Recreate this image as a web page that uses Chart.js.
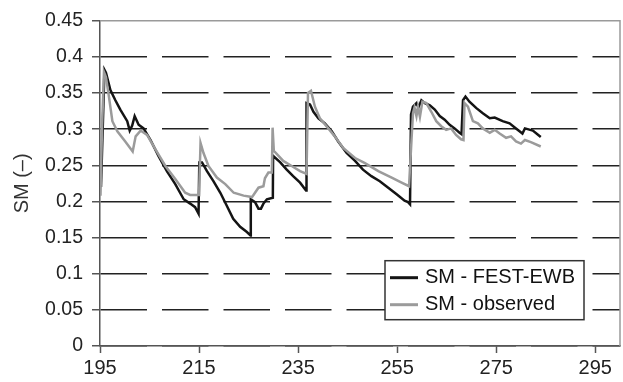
<!DOCTYPE html>
<html>
<head>
    <meta charset="UTF-8">
    <title>SM</title>
    <script src="https://cdn.jsdelivr.net/npm/chart.js"></script>
    <style>
        html, body { margin: 0; padding: 0; background: #fff; }
        #wrap { width: 623px; height: 382px; }
    </style>
</head>
<body>
    <div id="wrap"><canvas id="grafico" width="623" height="382"></canvas></div>

    <script>
        // series (day of year, soil moisture)
        const festDays = [195.2, 195.9, 196.2, 197.1, 198.1, 199.1, 200.5, 201.0, 201.5, 202.0, 202.8, 203.8, 205.2, 206.8, 208.5, 210.2, 211.9, 213.2, 214.2, 214.9,
            215.05, 215.6, 216.6, 217.9, 219.3, 220.6, 221.9, 223.3, 224.6, 225.4,
            225.45, 226.3, 227.0, 227.5, 228.0, 228.7, 229.9,
            229.95, 231.4, 232.7, 234.0, 235.4, 236.6,
            236.7, 237.4, 238.1, 239.1, 240.4, 241.8, 243.1, 244.8, 246.5, 248.1, 249.8, 251.5, 253.2, 254.9, 256.5, 257.2, 257.6,
            257.8, 258.2, 258.9, 259.3, 259.9, 260.6, 261.6, 262.6, 263.6, 264.6, 265.6, 266.6, 267.6, 268.0,
            268.3, 268.8, 269.6, 271.0, 272.3, 273.7, 274.7, 276.3, 277.7, 279.0, 280.3, 280.8, 282.4, 284.0];
        const festValues = [0.22, 0.382, 0.378, 0.354, 0.340, 0.327, 0.311, 0.298, 0.305, 0.318, 0.306, 0.301, 0.285, 0.263, 0.242, 0.224, 0.203, 0.197, 0.192, 0.183,
            0.254, 0.254, 0.242, 0.228, 0.212, 0.194, 0.176, 0.165, 0.158, 0.153,
            0.203, 0.199, 0.190, 0.190, 0.197, 0.203, 0.205,
            0.263, 0.254, 0.244, 0.235, 0.226, 0.215,
            0.336, 0.334, 0.324, 0.315, 0.308, 0.297, 0.283, 0.267, 0.256, 0.244, 0.235, 0.228, 0.219, 0.210, 0.201, 0.199, 0.196,
            0.320, 0.331, 0.336, 0.330, 0.340, 0.336, 0.333, 0.327, 0.318, 0.313, 0.306, 0.301, 0.295, 0.293,
            0.340, 0.345, 0.338, 0.329, 0.322, 0.315, 0.316, 0.311, 0.308, 0.301, 0.294, 0.301, 0.298, 0.289];

        const obsDays = [195.1, 195.4, 195.8, 196.2, 196.8, 197.5, 198.5, 200.1, 201.6, 202.2, 203.2, 204.5, 206.2, 208.2, 210.2, 212.2, 213.2, 215.0,
            215.3, 215.9, 216.9, 218.6, 220.3, 222.0, 224.0, 225.7, 226.3, 227.0, 228.0, 228.3, 229.0, 229.7,
            229.85, 230.1, 232.0, 233.7, 235.4, 236.7,
            237.0, 237.6, 238.4, 239.4, 241.1, 242.4, 244.1, 246.5, 248.5, 251.2, 253.9, 255.9, 257.4,
            257.9, 258.2, 258.5, 258.9, 259.2, 259.6, 260.1, 260.9, 261.9, 262.9, 263.9, 264.9, 265.9, 266.9, 267.9, 268.4,
            268.6, 269.3, 270.3, 271.3, 272.3, 273.7, 274.7, 275.7, 277.0, 278.0, 279.0, 280.0, 280.8, 282.0, 284.0];
        const obsValues = [0.208, 0.300, 0.379, 0.372, 0.345, 0.311, 0.297, 0.283, 0.269, 0.290, 0.298, 0.292, 0.272, 0.249, 0.231, 0.212, 0.209, 0.209,
            0.281, 0.267, 0.249, 0.233, 0.224, 0.212, 0.208, 0.206, 0.212, 0.219, 0.221, 0.232, 0.240, 0.240,
            0.302, 0.270, 0.256, 0.249, 0.242, 0.238,
            0.350, 0.353, 0.331, 0.315, 0.301, 0.290, 0.274, 0.260, 0.253, 0.242, 0.233, 0.226, 0.221,
            0.285, 0.322, 0.330, 0.318, 0.331, 0.317, 0.338, 0.336, 0.324, 0.311, 0.304, 0.299, 0.301, 0.292, 0.286, 0.285,
            0.336, 0.331, 0.311, 0.308, 0.301, 0.295, 0.299, 0.294, 0.288, 0.290, 0.283, 0.280, 0.285, 0.282, 0.276];

        const xTicks = [195, 215, 235, 255, 275, 295];
        const yTicks = [0, 0.05, 0.1, 0.15, 0.2, 0.25, 0.3, 0.35, 0.4, 0.45];
        const seriesNames = ['SM - FEST-EWB', 'SM - observed'];

        const fuente = 'Liberation Sans, Arial, sans-serif';
        const toPoints = (xs, ys) => xs.map((x, i) => ({ x: x, y: ys[i] }));

        // legend box inside the plot, lower right
        const leyenda = {
            id: 'leyenda',
            afterDraw(chart) {
                const c = chart.ctx, a = chart.chartArea;
                const bx = a.left + 285, by = a.top + 240, bw = 199, bh = 59;
                c.save();
                c.fillStyle = '#fff';
                c.fillRect(bx, by, bw, bh);
                c.strokeStyle = '#333';
                c.lineWidth = 1.5;
                c.strokeRect(bx, by, bw, bh);
                c.font = '20px ' + fuente;
                c.textBaseline = 'middle';
                chart.data.datasets.forEach((ds, i) => {
                    const yy = by + 17 + i * 27;
                    c.strokeStyle = ds.borderColor;
                    c.lineWidth = 3;
                    c.beginPath();
                    c.moveTo(bx + 5, yy);
                    c.lineTo(bx + 33, yy);
                    c.stroke();
                    c.fillStyle = '#111';
                    c.fillText(ds.label, bx + 40, yy);
                });
                c.restore();
            }
        };

        // solid light frame on top and right of the plot
        const marco = {
            id: 'marco',
            beforeDatasetsDraw(chart) {
                const c = chart.ctx, a = chart.chartArea;
                c.save();
                c.strokeStyle = '#9a9a9a';
                c.lineWidth = 1.5;
                c.beginPath();
                c.moveTo(a.left, a.top);
                c.lineTo(a.right, a.top);
                c.lineTo(a.right, a.bottom);
                c.stroke();
                c.restore();
            }
        };

        new Chart(document.getElementById('grafico'), {
            type: 'line',
            data: {
                datasets: [
                    { label: seriesNames[0], data: toPoints(festDays, festValues), borderColor: '#141414', borderWidth: 2.5, pointRadius: 0, tension: 0, order: 2 },
                    { label: seriesNames[1], data: toPoints(obsDays, obsValues), borderColor: '#9b9b9b', borderWidth: 2.5, pointRadius: 0, tension: 0, order: 1 }
                ]
            },
            options: {
                responsive: false,
                animation: false,
                layout: { padding: { top: 18, right: 3, left: 0, bottom: 0 } },
                plugins: { legend: { display: false }, tooltip: { enabled: false } },
                scales: {
                    x: {
                        type: 'linear',
                        min: 195,
                        max: 300,
                        afterBuildTicks: s => { s.ticks = xTicks.map(v => ({ value: v })); },
                        afterFit: s => { s.height = 36; },
                        grid: { drawOnChartArea: false, drawTicks: true, tickLength: 7, tickColor: '#555', tickWidth: 1.5 },
                        border: { color: '#555', width: 1.5 },
                        ticks: { color: '#222', font: { family: fuente, size: 20 }, padding: 3, maxRotation: 0, callback: v => String(v) }
                    },
                    y: {
                        min: 0,
                        max: 0.45,
                        afterBuildTicks: s => { s.ticks = yTicks.map(v => ({ value: v })); },
                        afterFit: s => { s.width = 100; },
                        grid: {
                            color: ctx => (ctx.tick && ctx.tick.value >= 0.449) ? 'rgba(0,0,0,0)' : '#222',
                            lineWidth: 1.5,
                            tickLength: 8,
                            tickColor: '#555',
                            tickWidth: 1.5,
                            tickBorderDash: []
                        },
                        border: { color: '#555', width: 1.5, dash: [46.5, 15] },
                        ticks: { color: '#222', font: { family: fuente, size: 19.5 }, padding: 9, callback: v => String(+v.toFixed(2)) },
                        title: { display: true, text: 'SM (–)', color: '#333', font: { family: fuente, size: 20 }, padding: { top: 10, bottom: 0 } }
                    }
                }
            },
            plugins: [marco, leyenda]
        });
    </script>
</body>
</html>
